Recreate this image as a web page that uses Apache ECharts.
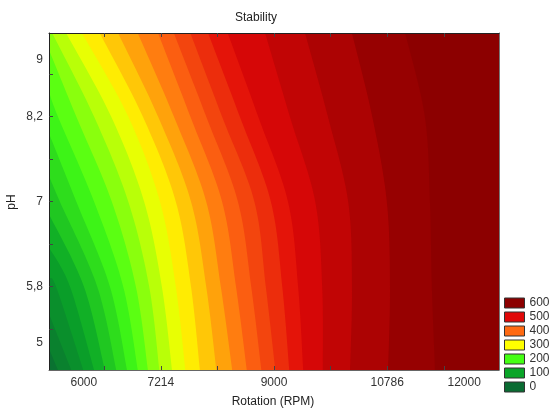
<!DOCTYPE html>
<html><head><meta charset="utf-8">
<script src="https://cdn.jsdelivr.net/npm/echarts@6/dist/echarts.min.js"></script>
<style>html,body{margin:0;padding:0;background:#fff}#c{width:552px;height:412px}</style>
</head><body><div id="c"></div>
<script>
// ---- data ----
const xTickLabels = [6000, 7214, 9000, 10786, 12000];
const xTickMarks = [6321, 7214, 8107, 9000, 9893, 10786, 11679];
const yTickLabels = [5, 5.8, 7, 8.2, 9];
const yTickMarks = [5.2, 5.8, 6.4, 7.0, 7.6, 8.2, 8.8];
const legendValues = [600, 500, 400, 300, 200, 100, 0];
const phRows = [4.62, 5.8, 7.0, 8.2, 9.38];
const levels = [25, 50, 75, 100, 125, 150, 175, 200, 225, 250, 275, 300, 325, 350, 375, 400, 425, 450, 475, 500, 525, 550, 575, 600];
// RPM position of each contour level at each pH row (null = contour has left the plot)
const contourRpm = [
  [5590, null, null, null, null],
  [5800, null, null, null, null],
  [5990, 5560, null, null, null],
  [6160, 5780, null, null, null],
  [6330, 6000, null, null, null],
  [6510, 6210, 5620, null, null],
  [6680, 6410, 5880, null, null],
  [6850, 6620, 6160, 5590, null],
  [7010, 6820, 6440, 5880, null],
  [7190, 7030, 6700, 6160, 5500],
  [7390, 7230, 6950, 6430, 5720],
  [7600, 7450, 7200, 6700, 5970],
  [7830, 7690, 7450, 6930, 6250],
  [8090, 7930, 7690, 7170, 6540],
  [8340, 8160, 7930, 7420, 6850],
  [8570, 8400, 8180, 7680, 7170],
  [8800, 8640, 8430, 7930, 7420],
  [9020, 8870, 8690, 8180, 7680],
  [9240, 9130, 8950, 8460, 7960],
  [9460, 9380, 9220, 8750, 8270],
  [9770, 9760, 9650, 9250, 8860],
  [10200, 10230, 10170, 9850, 9490],
  [10800, 10830, 10780, 10550, 10230],
  [11540, 11490, 11460, 11380, 11070]
];
// pH at which a contour leaves the plot through the left edge
const leftExitPh = [4.92, 5.41, 5.89, 6.35, 6.82, 7.36, 7.96, 8.55, 9.14, null, null, null, null, null, null, null, null, null, null, null, null, null, null, null];

// ---- styling ----
const X_MIN = 5450, X_MAX = 12550, Y_MIN = 4.62, Y_MAX = 9.38;
const anchorColors = ['#0a6b32', '#0aa528', '#44ff14', '#ffff00', '#ff6a12', '#e00808', '#8c0000']; // 0..600
const FONT = '"Liberation Sans", Arial, sans-serif';

function hex2rgb(h){return [parseInt(h.substr(1,2),16),parseInt(h.substr(3,2),16),parseInt(h.substr(5,2),16)];}
function colorAt(v){
  v = Math.max(0, Math.min(600, v));
  const k = Math.min(5, Math.floor(v/100));
  const t = (v - k*100)/100;
  const a = hex2rgb(anchorColors[k]), b = hex2rgb(anchorColors[k+1]);
  const c = a.map((x,j)=>Math.round(x + (b[j]-x)*t));
  return 'rgb(' + c.join(',') + ')';
}
function spline(p){
  if (p.length < 3) return p.slice();
  const out = [], N = 16;
  for (let i = 0; i < p.length - 1; i++) {
    const p0 = p[i-1] || p[i], p1 = p[i], p2 = p[i+1], p3 = p[i+2] || p[i+1];
    for (let s = 0; s < N; s++) {
      const t = s/N, t2 = t*t, t3 = t2*t;
      const f = j => 0.5*((2*p1[j]) + (-p0[j]+p2[j])*t + (2*p0[j]-5*p1[j]+4*p2[j]-p3[j])*t2 + (-p0[j]+3*p1[j]-3*p2[j]+p3[j])*t3);
      out.push([f(0), f(1)]);
    }
  }
  out.push(p[p.length-1]);
  return out;
}

const chart = echarts.init(document.getElementById('c'), null, {renderer: 'canvas'});

const legendSeries = legendValues.map((v, i) => ({
  type: 'scatter', name: String(v), data: [],
  itemStyle: {color: anchorColors[anchorColors.length - 1 - i], opacity: 1}
}));

const option = {
  animation: false,
  backgroundColor: '#fff',
  grid: {left: 49, right: 53, top: 33, bottom: 42, containLabel: false},
  xAxis: [{
    type: 'value', min: X_MIN, max: X_MAX, position: 'bottom', z: 10,
    axisLine: {show: true, onZero: false, lineStyle: {color: '#666', width: 1}},
    splitLine: {show: false},
    axisTick: {show: true, inside: true, length: 4, customValues: xTickMarks, lineStyle: {color: '#444'}},
    axisLabel: {customValues: xTickLabels, fontSize: 12, color: '#333', margin: 7, fontFamily: FONT,
      formatter: v => String(v)}
  }, {
    type: 'value', min: X_MIN, max: X_MAX, position: 'top', z: 10,
    axisLine: {show: true, onZero: false, lineStyle: {color: '#222', width: 1}},
    splitLine: {show: false},
    axisTick: {show: true, inside: true, length: 4, customValues: xTickMarks, lineStyle: {color: '#444'}},
    axisLabel: {show: false}
  }],
  yAxis: [{
    type: 'value', min: Y_MIN, max: Y_MAX, position: 'left', z: 10,
    axisLine: {show: true, onZero: false, lineStyle: {color: '#222', width: 1}},
    splitLine: {show: false},
    axisTick: {show: true, inside: true, length: 4, customValues: yTickMarks, lineStyle: {color: '#444'}},
    axisLabel: {customValues: yTickLabels, fontSize: 12, color: '#333', margin: 6, fontFamily: FONT,
      formatter: v => String(v).replace('.', ',')}
  }, {
    type: 'value', min: Y_MIN, max: Y_MAX, position: 'right', z: 10,
    axisLine: {show: true, onZero: false, lineStyle: {color: '#777', width: 1}},
    splitLine: {show: false}, axisTick: {show: false}, axisLabel: {show: false}
  }],
  legend: {
    orient: 'vertical', left: 504, top: 297, padding: 0,
    itemWidth: 20, itemHeight: 10, itemGap: 2, icon: 'rect', selectedMode: false,
    itemStyle: {borderColor: '#333', borderWidth: 1, opacity: 1},
    textStyle: {fontSize: 12, color: '#333', fontFamily: FONT},
    data: legendValues.map(String)
  },
  graphic: [
    {type: 'text', x: 256, y: 18, style: {text: 'Stability', font: '12px ' + FONT, fill: '#222', align: 'center', verticalAlign: 'middle'}},
    {type: 'text', x: 273, y: 402, style: {text: 'Rotation (RPM)', font: '12px ' + FONT, fill: '#222', align: 'center', verticalAlign: 'middle'}},
    {type: 'text', x: 12, y: 202, rotation: Math.PI/2, style: {text: 'pH', font: '12px ' + FONT, fill: '#222', align: 'center', verticalAlign: 'middle'}}
  ],
  series: [{
    type: 'custom', silent: true, clip: true, z: 1,
    data: [[X_MIN, Y_MIN]],
    renderItem: function (params, api) {
      const bl = api.coord([X_MIN, Y_MIN]), tr = api.coord([X_MAX, Y_MAX]);
      return {type: 'rect', shape: {x: bl[0], y: tr[1], width: tr[0]-bl[0], height: bl[1]-tr[1]}, style: {fill: colorAt(12.5)}};
    }
  }, {
    type: 'custom', silent: true, clip: true, z: 2,
    data: levels.map((lv, i) => [contourRpm[i][0], phRows[0], lv]),
    renderItem: function (params, api) {
      const i = params.dataIndex;
      const rpms = contourRpm[i];
      const pts = [];
      for (let r = 0; r < phRows.length; r++) {
        if (rpms[r] == null) break;
        pts.push(api.coord([rpms[r], phRows[r]]));
      }
      const ex = leftExitPh[i];
      if (ex != null) pts.push(api.coord([X_MIN, ex]));
      const lt = api.coord([X_MIN, Y_MAX]), rb = api.coord([X_MAX, Y_MIN]);
      const curve = spline(pts).map(p => [Math.max(lt[0], Math.min(rb[0], p[0])), Math.max(lt[1], Math.min(rb[1], p[1]))]);
      if (ex != null) curve.push([lt[0], lt[1]]);
      curve.push([rb[0], lt[1]], [rb[0], rb[1]]);
      return {type: 'polygon', shape: {points: curve}, style: {fill: colorAt(levels[i] + 12.5)}};
    }
  }].concat(legendSeries)
};
chart.setOption(option);
</script>
</body></html>
